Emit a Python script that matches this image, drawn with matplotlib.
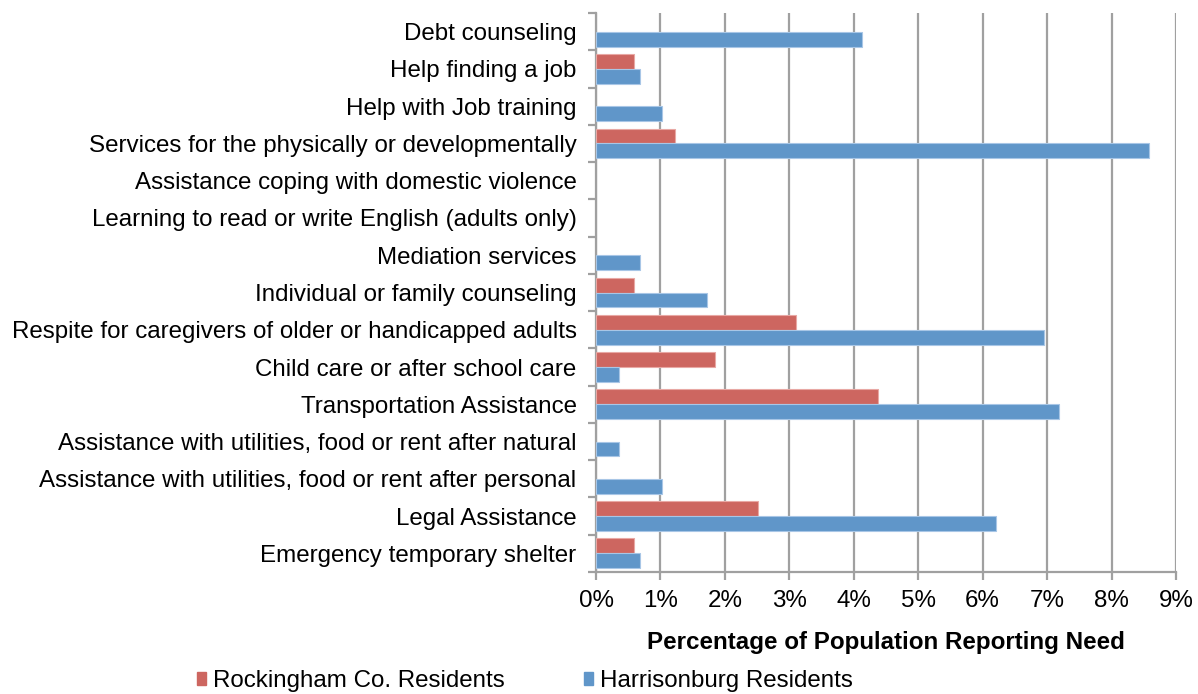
import matplotlib.pyplot as plt
import numpy as np
from matplotlib.patches import Patch

plt.rcParams['font.family'] = ['Liberation Sans', 'DejaVu Sans']

# categories, top to bottom
categories = [
    'Debt counseling',
    'Help finding a job',
    'Help with Job training',
    'Services for the physically or developmentally',
    'Assistance coping with domestic violence',
    'Learning to read or write English (adults only)',
    'Mediation services',
    'Individual or family counseling',
    'Respite for caregivers of older or handicapped adults',
    'Child care or after school care',
    'Transportation Assistance',
    'Assistance with utilities, food or rent after natural',
    'Assistance with utilities, food or rent after personal',
    'Legal Assistance',
    'Emergency temporary shelter',
]
# percent of population reporting need
rockingham = [0, 0.59, 0, 1.22, 0, 0, 0, 0.59, 3.10, 1.84, 4.38, 0, 0, 2.51, 0.59]
harrisonburg = [4.13, 0.69, 1.03, 8.58, 0, 0, 0.69, 1.72, 6.95, 0.35, 7.19, 0.35, 1.03, 6.20, 0.69]

red = '#CD6660'
blue = '#6096C9'
fs = 17.4

fig = plt.figure(figsize=(11.98, 6.94), dpi=100)
ax = fig.add_axes([596/1198, 1 - 572/694, 580/1198, 559/694])

y = np.arange(len(categories))
h = 0.4
ax.barh(y - h/2, rockingham, height=h, color=red, edgecolor='#E8A8A4',
        linewidth=[0.8 if v > 0 else 0 for v in rockingham], zorder=3)
ax.barh(y + h/2, harrisonburg, height=h, color=blue, edgecolor='#A8C6E6',
        linewidth=[0.8 if v > 0 else 0 for v in harrisonburg], zorder=3)

ax.set_ylim(len(categories) - 0.5, -0.5)
ax.set_xlim(0, 9)
ax.set_xticks(np.arange(0, 10))
ax.set_xticklabels([f'{i}%' for i in range(10)], fontsize=fs)
ax.xaxis.grid(True, color='#A0A0A0', linewidth=1.6, zorder=0)

# category labels between boundary ticks
ax.set_yticks(np.arange(-0.5, len(categories), 1))
ax.set_yticklabels([])
ax.set_yticks(y, minor=True)
ax.set_yticklabels(categories, minor=True, fontsize=fs)
ax.tick_params(axis='y', which='minor', length=0, pad=14)
ax.tick_params(axis='y', which='major', length=6, width=1.6, color='#A0A0A0')
ax.tick_params(axis='x', length=6, width=1.6, color='#A0A0A0', pad=7)

for s in ['top', 'right']:
    ax.spines[s].set_visible(False)
for s in ['left', 'bottom']:
    ax.spines[s].set_color('#A0A0A0')
    ax.spines[s].set_linewidth(1.6)

ax.set_xlabel('Percentage of Population Reporting Need', fontsize=fs, fontweight='bold', labelpad=14)

handles = [Patch(color=red), Patch(color=blue)]
fig.legend(handles, ['Rockingham Co. Residents', 'Harrisonburg Residents'],
           loc='center', bbox_to_anchor=(525/1198, 1 - 681/694), ncol=2, frameon=False,
           fontsize=fs, handlelength=0.34, handleheight=0.45, handletextpad=0.3,
           columnspacing=3.3, borderpad=0)

fig.savefig('out.png', dpi=100)
